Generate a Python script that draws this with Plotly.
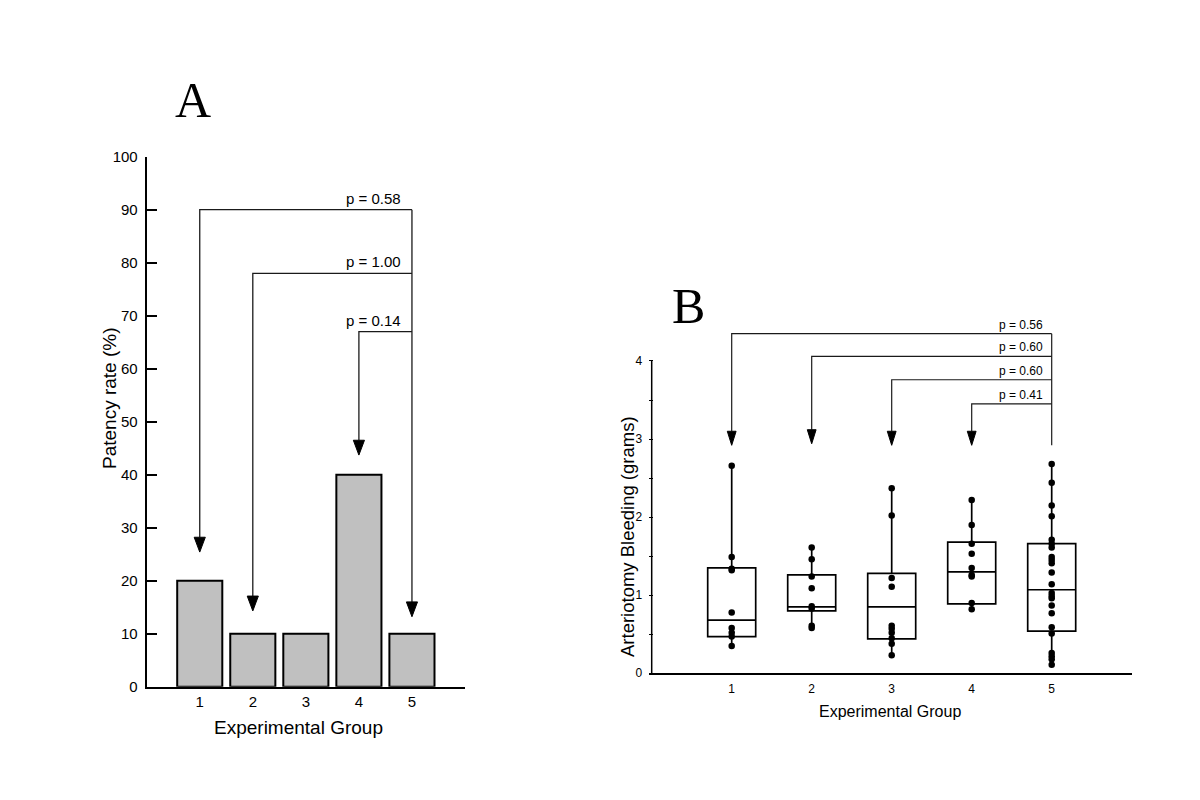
import plotly.graph_objects as go

W, H = 1200, 800
OFF = 8  # page body margin offset in the browser
FONT = "Arial, Liberation Sans, sans-serif"
LINE = "#1a1a1a"

# ---------------- Panel A data ----------------
groups = [1, 2, 3, 4, 5]
group_labels = ["1", "2", "3", "4", "5"]
patency = [20, 10, 10, 40, 10]
a_yticks = [0, 10, 20, 30, 40, 50, 60, 70, 80, 90, 100]

a_cmp_from = [1, 2, 4]
a_cmp_to = 5
a_cmp_level = [90, 78, 67]
a_cmp_label = ["p = 0.58", "p = 1.00", "p = 0.14"]
a_arrow_tip_from = [25.4, 14.3, 43.7]
a_arrow_tip_to = 13.2

# ---------------- Panel B data ----------------
b_g1 = [2.66, 1.49, 1.34, 1.32, 0.78, 0.58, 0.52, 0.47, 0.35]
b_g2 = [1.61, 1.46, 1.24, 1.09, 0.86, 0.83, 0.61, 0.58]
b_g3 = [2.37, 2.02, 1.22, 1.11, 0.61, 0.57, 0.52, 0.45, 0.38, 0.23]
b_g4 = [2.22, 1.90, 1.66, 1.53, 1.35, 1.26, 1.24, 0.90, 0.82]
b_g5 = [2.68, 2.44, 2.15, 2.01, 1.71, 1.66, 1.61, 1.49, 1.45, 1.41, 1.29, 1.14,
        1.03, 0.99, 0.96, 0.87, 0.77, 0.59, 0.51, 0.26, 0.22, 0.18, 0.11]
b_q1 = [0.47, 0.80, 0.44, 0.89, 0.54]
b_median = [0.68, 0.85, 0.85, 1.30, 1.07]
b_q3 = [1.35, 1.26, 1.28, 1.68, 1.66]
b_lower = [0.35, 0.58, 0.23, 0.82, 0.11]
b_upper = [2.66, 1.61, 2.37, 2.22, 2.68]
b_yticks = [0, 0.5, 1, 1.5, 2, 2.5, 3, 3.5, 4]
b_yticktext = ["0", "", "1", "", "2", "", "3", "", "4"]

b_cmp_from = [1, 2, 3, 4]
b_cmp_to = 5
b_cmp_level = [4.35, 4.06, 3.76, 3.45]
b_cmp_label = ["p = 0.56", "p = 0.60", "p = 0.60", "p = 0.41"]
b_arrow_tip_from = [2.92, 2.94, 2.92, 2.92]
b_arrow_tip_to = 2.92


def px(v):
    return (v - OFF) / W


def py(v):
    return 1 - (v - OFF) / H


fig = go.Figure()

# ---- Panel A bars ----
fig.add_trace(go.Bar(
    x=groups, y=patency, width=0.85,
    marker=dict(color="#c0c0c0", line=dict(color="black", width=2)),
    xaxis="x", yaxis="y", showlegend=False, hoverinfo="skip"))

# ---- Panel A brackets ----
a_head_hw, a_head_h = 0.105, 2.8   # arrowhead half-width (x units) and height (y units)
for g, lvl, tip in zip(a_cmp_from, a_cmp_level, a_arrow_tip_from):
    fig.add_trace(go.Scatter(
        x=[g, g, a_cmp_to], y=[tip + a_head_h, lvl, lvl], mode="lines",
        line=dict(color=LINE, width=1.3), xaxis="x", yaxis="y",
        showlegend=False, hoverinfo="skip"))
    fig.add_trace(go.Scatter(
        x=[g, g - a_head_hw, g + a_head_hw, g], y=[tip, tip + a_head_h, tip + a_head_h, tip],
        mode="lines", fill="toself", fillcolor="black", line=dict(color="black", width=1),
        xaxis="x", yaxis="y", showlegend=False, hoverinfo="skip"))
fig.add_trace(go.Scatter(
    x=[a_cmp_to, a_cmp_to], y=[max(a_cmp_level), a_arrow_tip_to + a_head_h], mode="lines",
    line=dict(color=LINE, width=1.3), xaxis="x", yaxis="y",
    showlegend=False, hoverinfo="skip"))
fig.add_trace(go.Scatter(
    x=[a_cmp_to, a_cmp_to - a_head_hw, a_cmp_to + a_head_hw, a_cmp_to],
    y=[a_arrow_tip_to, a_arrow_tip_to + a_head_h, a_arrow_tip_to + a_head_h, a_arrow_tip_to],
    mode="lines", fill="toself", fillcolor="black", line=dict(color="black", width=1),
    xaxis="x", yaxis="y", showlegend=False, hoverinfo="skip"))

annotations = []
for lvl, lab in zip(a_cmp_level, a_cmp_label):
    annotations.append(dict(x=4.84, y=lvl, xref="x", yref="y", text=lab, showarrow=False,
                            xanchor="right", yanchor="bottom", yshift=1,
                            font=dict(family=FONT, size=15, color="black")))

# ---- Panel B y-axis line (0..4 only) ----
fig.add_trace(go.Scatter(
    x=[0, 0], y=[b_yticks[0], b_yticks[-1]], mode="lines",
    line=dict(color="black", width=1.5), xaxis="x2", yaxis="y2",
    showlegend=False, hoverinfo="skip"))

# ---- Panel B boxes ----
fig.add_trace(go.Box(
    x=groups, q1=b_q1, median=b_median, q3=b_q3, lowerfence=b_lower, upperfence=b_upper,
    width=0.6, whiskerwidth=0, boxpoints=False,
    line=dict(color="black", width=1.7), fillcolor="rgba(255,255,255,0)",
    xaxis="x2", yaxis="y2", showlegend=False, hoverinfo="skip"))

for g, vals in zip(groups, [b_g1, b_g2, b_g3, b_g4, b_g5]):
    fig.add_trace(go.Scatter(
        x=[g] * len(vals), y=vals, mode="markers",
        marker=dict(color="black", size=6.5), xaxis="x2", yaxis="y2",
        showlegend=False, hoverinfo="skip", cliponaxis=False))

# ---- Panel B brackets ----
b_head_hw, b_head_h = 0.055, 0.18
for g, lvl, tip in zip(b_cmp_from, b_cmp_level, b_arrow_tip_from):
    fig.add_trace(go.Scatter(
        x=[g, g, b_cmp_to], y=[tip + b_head_h, lvl, lvl], mode="lines",
        line=dict(color=LINE, width=1.2), xaxis="x2", yaxis="y2",
        showlegend=False, hoverinfo="skip"))
    fig.add_trace(go.Scatter(
        x=[g, g - b_head_hw, g + b_head_hw, g], y=[tip, tip + b_head_h, tip + b_head_h, tip],
        mode="lines", fill="toself", fillcolor="black", line=dict(color="black", width=1),
        xaxis="x2", yaxis="y2", showlegend=False, hoverinfo="skip"))
fig.add_trace(go.Scatter(
    x=[b_cmp_to, b_cmp_to], y=[max(b_cmp_level), b_arrow_tip_to], mode="lines",
    line=dict(color=LINE, width=1.2), xaxis="x2", yaxis="y2",
    showlegend=False, hoverinfo="skip"))
for lvl, lab in zip(b_cmp_level, b_cmp_label):
    annotations.append(dict(x=4.92, y=lvl, xref="x2", yref="y2", text=lab, showarrow=False,
                            xanchor="right", yanchor="bottom", yshift=0,
                            font=dict(family=FONT, size=12, color="black")))

# ---- Titles / panel letters ----
SERIF = "Liberation Serif, Times New Roman, serif"


def label(x, y, text, size, family=FONT, angle=0):
    return dict(x=px(x), y=py(y), xref="paper", yref="paper", text=text, showarrow=False,
                xanchor="center", yanchor="middle", textangle=angle,
                font=dict(family=family, size=size, color="black"))


annotations += [
    label(193, 100, "A", 50, SERIF),
    label(688, 306, "B", 50, SERIF),
    label(109, 398, "Patency rate (%)", 19, angle=-90),
    label(298, 727, "Experimental Group", 19),
    label(627, 537, "Arteriotomy Bleeding (grams)", 18.5, angle=-90),
    label(890, 711, "Experimental Group", 16),
]

B_UNIT = (673.3 - 361.0) / 4.0
B_TOP = 4.6
B_XMIN = -0.03

fig.update_layout(
    width=W, height=H, margin=dict(l=0, r=0, t=0, b=0, autoexpand=False),
    paper_bgcolor="white", plot_bgcolor="white", showlegend=False,
    xaxis=dict(domain=[px(146.7), px(465)], range=[0, 6], tickvals=groups, ticktext=group_labels,
               showline=True, linecolor="black", linewidth=2, ticks="", showgrid=False,
               zeroline=False, tickfont=dict(family=FONT, size=15, color="black"),
               ticklabelstandoff=0, fixedrange=True, automargin=False),
    yaxis=dict(domain=[py(686.7), py(156.7)], range=[0, 100], tickvals=a_yticks,
               showline=True, linecolor="black", linewidth=2, ticks="inside", ticklen=10,
               tickwidth=1.5, tickcolor="black", showgrid=False, zeroline=False,
               tickfont=dict(family=FONT, size=15, color="black"), ticklabelstandoff=4,
               fixedrange=True, automargin=False),
    xaxis2=dict(domain=[px(651.7 + B_XMIN * 80), px(1131.7)], range=[B_XMIN, 6], tickvals=groups,
                ticktext=group_labels, anchor="y2",
                showline=True, linecolor="black", linewidth=1.5, ticks="", showgrid=False,
                zeroline=False, tickfont=dict(family=FONT, size=12, color="black"),
                ticklabelstandoff=4, fixedrange=True, automargin=False),
    yaxis2=dict(domain=[py(673.3), py(673.3 - B_TOP * B_UNIT)], range=[0, B_TOP], tickvals=b_yticks,
                ticktext=b_yticktext, anchor="x2",
                showline=False, ticks="inside", ticklen=4,
                tickwidth=1, tickcolor="black", showgrid=False, zeroline=False,
                tickfont=dict(family=FONT, size=12, color="black"), ticklabelstandoff=6,
                fixedrange=True, automargin=False),
    annotations=annotations,
)

fig.write_html("out.html")
